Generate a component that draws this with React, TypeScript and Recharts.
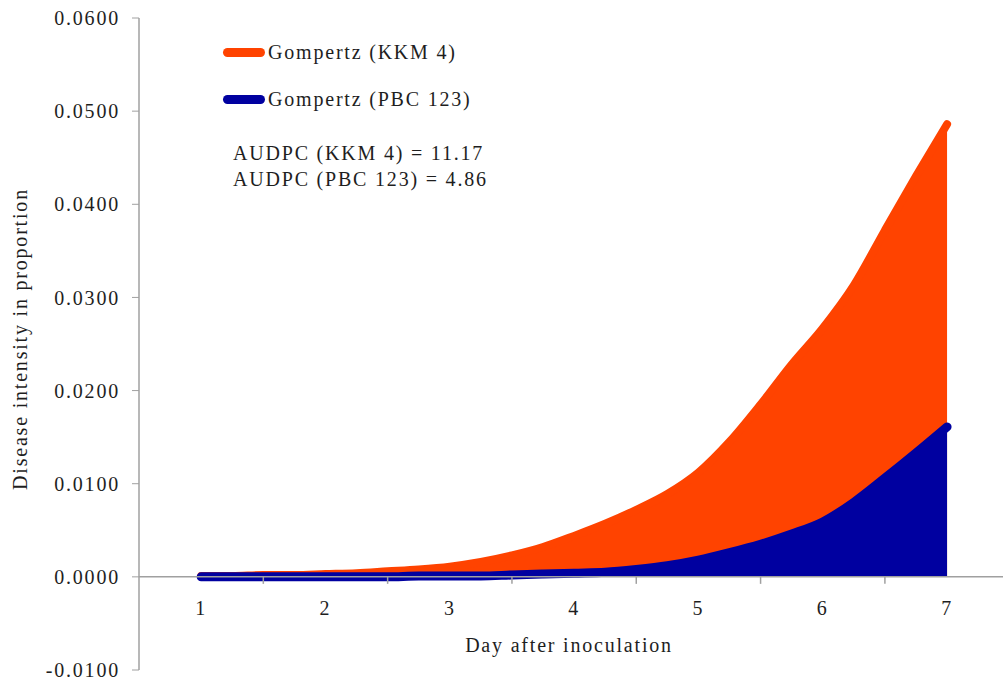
import { ComposedChart, Area, XAxis, YAxis, ReferenceLine, Legend } from 'recharts';

const days = [1, 1.25, 1.5, 1.75, 2, 2.25, 2.5, 2.75, 3, 3.25, 3.5, 3.75, 4, 4.25, 4.5, 4.75, 5, 5.25, 5.5, 5.75, 6, 6.25, 6.5, 6.75, 7];
const kkm4 = [0.0001, 0.0001, 0.0002, 0.0002, 0.0003, 0.0004, 0.0006, 0.0008, 0.0011, 0.0016, 0.0023, 0.0032, 0.0044, 0.0057, 0.0072, 0.0089, 0.0112, 0.0145, 0.0185, 0.0228, 0.0267, 0.0313, 0.0372, 0.043, 0.0486];
const pbc123 = [0, 0, 0, 0, 0, 0, 0, 0.0001, 0.0001, 0.0001, 0.0002, 0.0003, 0.0004, 0.0005, 0.0008, 0.0012, 0.0018, 0.0026, 0.0035, 0.0046, 0.0059, 0.008, 0.0106, 0.0133, 0.0161];

const dayTicks = [1, 1.5, 2, 2.5, 3, 3.5, 4, 4.5, 5, 5.5, 6, 6.5, 7];
const yTicks = [-0.01, 0, 0.01, 0.02, 0.03, 0.04, 0.05, 0.06];
const seriesNames = ['Gompertz (KKM 4)', 'Gompertz (PBC 123)'];
const audpcLines = ['AUDPC (KKM 4) = 11.17', 'AUDPC (PBC 123) = 4.86'];

const data = days.map((d, i) => ({ day: d, kkm4: kkm4[i], pbc123: pbc123[i] }));

const ORANGE = '#FF4300';
const BLUE = '#0000A0';
const AXIS = '#a0a0a0';
const INK = '#1e1e1e';
const FONT = '"Liberation Serif", "Times New Roman", serif';
const FS = 20;
const LS = 1.8;

const W = 1003;
const H = 679;
const X_AXIS_H = 9;
const MARGIN = { top: 18, right: 0, bottom: 0, left: 0 };
const Y_MIN = yTicks[0];
const Y_MAX = yTicks[yTicks.length - 1];
const PLOT_H = H - MARGIN.top - MARGIN.bottom - X_AXIS_H;
const ZERO_Y = MARGIN.top + ((Y_MAX - 0) / (Y_MAX - Y_MIN)) * PLOT_H;

const textStyle = { fontFamily: FONT, fontSize: FS, letterSpacing: LS, fill: INK };

function DayTick(props: any) {
  const { x, payload } = props;
  const v = payload.value;
  if (Number.isInteger(v)) {
    return (
      <text x={x} y={ZERO_Y + 38} textAnchor="middle" style={textStyle}>
        {v}
      </text>
    );
  }
  return <line x1={x} x2={x} y1={ZERO_Y} y2={ZERO_Y + 7} stroke={AXIS} strokeWidth={1.5} />;
}

function LegendBox() {
  const colors = [ORANGE, BLUE];
  const rows = [52, 99];
  const base = { position: 'absolute' as const, fontFamily: FONT, fontSize: FS, letterSpacing: LS, color: INK, lineHeight: '24px', whiteSpace: 'nowrap' as const };
  return (
    <div style={{ position: 'relative', width: W, height: 200 }}>
      {seriesNames.map((name, i) => (
        <div key={name}>
          <div style={{ position: 'absolute', left: 223, top: rows[i] - 4.5, width: 42, height: 9, borderRadius: 5, background: colors[i] }} />
          <div style={{ ...base, left: 268, top: rows[i] - 12 }}>{name}</div>
        </div>
      ))}
      {audpcLines.map((t, i) => (
        <div key={t} style={{ ...base, left: 233, top: 141 + i * 25.5 }}>{t}</div>
      ))}
    </div>
  );
}

export default function App() {
  return (
    <div style={{ position: 'absolute', left: 0, top: 0 }}>
      <ComposedChart width={W} height={H} data={data} margin={MARGIN}>
        <ReferenceLine y={0} stroke={AXIS} strokeWidth={1.5} />
        <XAxis
          dataKey="day"
          type="number"
          domain={[0.5, 7.45]}
          ticks={dayTicks}
          interval={0}
          allowDataOverflow
          height={X_AXIS_H}
          axisLine={false}
          tickLine={false}
          tick={(p: any) => <DayTick {...p} />}
          label={{
            content: (p: any) => (
              <text x={p.viewBox.x + p.viewBox.width / 2 - 2} y={652} textAnchor="middle" style={textStyle}>
                Day after inoculation
              </text>
            ),
          }}
        />
        <YAxis
          type="number"
          domain={[Y_MIN, Y_MAX]}
          ticks={yTicks}
          interval={0}
          width={139}
          axisLine={{ stroke: AXIS, strokeWidth: 1.5 }}
          tickLine={{ stroke: AXIS, strokeWidth: 1 }}
          tickSize={7}
          tickMargin={12}
          tick={{ ...textStyle }}
          tickFormatter={(v: number) => v.toFixed(4)}
          label={{
            content: () => (
              <text x={27} y={339} transform="rotate(-90, 27, 339)" textAnchor="middle" style={textStyle}>
                Disease intensity in proportion
              </text>
            ),
          }}
        />
        <Legend
          layout="vertical"
          align="center"
          verticalAlign="middle"
          wrapperStyle={{ left: 0, top: 0, width: W }}
          content={() => <LegendBox />}
        />
        <Area
          name={seriesNames[0]}
          type="monotone"
          dataKey="kkm4"
          baseValue={0}
          stroke={ORANGE}
          strokeWidth={8}
          strokeLinecap="round"
          strokeLinejoin="round"
          fill={ORANGE}
          fillOpacity={1}
          isAnimationActive={false}
        />
        <Area
          name={seriesNames[1]}
          type="monotone"
          dataKey="pbc123"
          baseValue={0}
          stroke={BLUE}
          strokeWidth={9}
          strokeLinecap="round"
          strokeLinejoin="round"
          fill={BLUE}
          fillOpacity={1}
          isAnimationActive={false}
        />
      </ComposedChart>
    </div>
  );
}
